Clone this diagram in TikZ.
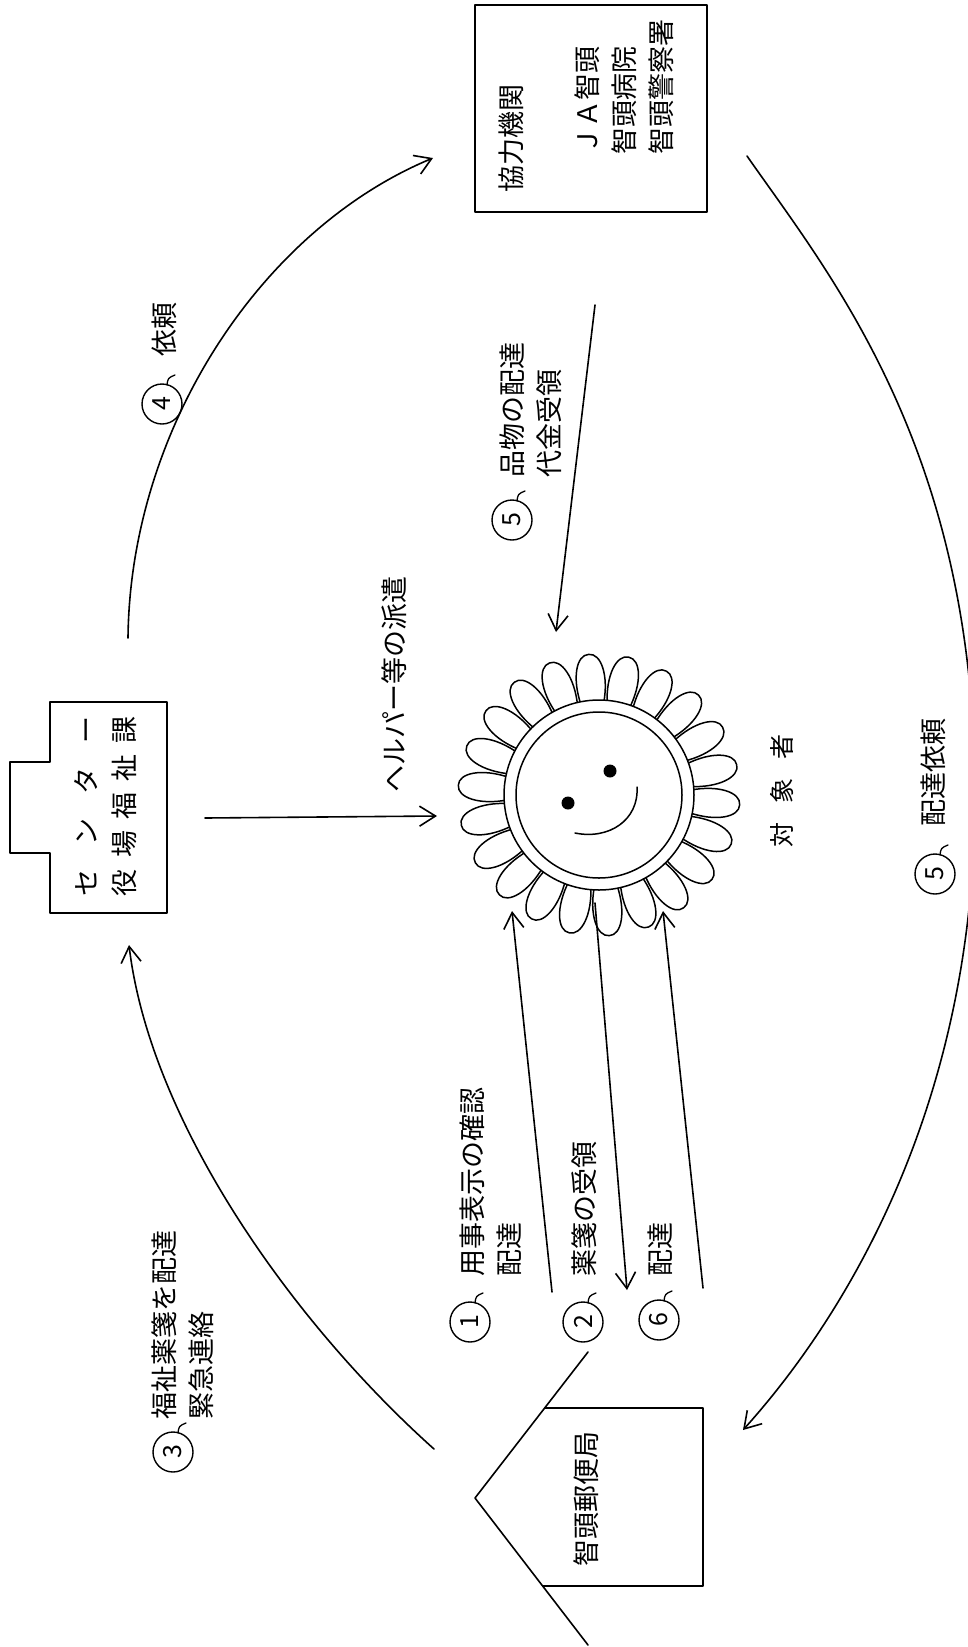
\documentclass[tikz,border=0pt]{standalone}
\usepackage{fontspec}
\newfontfamily\jp{Noto Sans CJK JP}
\usetikzlibrary{arrows.meta}

% circled step number with the small comma stroke after it
\newcommand\stepnum[3]{%
  \node[numcirc] (#1) at #2 {#3};
  \draw[line width=1.3pt] ([shift={(5,-19)}]#1.center) .. controls ([shift={(6,-26)}]#1.center) .. ([shift={(13,-29)}]#1.center);
}

\begin{document}
\begin{tikzpicture}[x=1pt,y=-1pt,
  line width=1.6pt, line cap=round, line join=round,
  lbl/.style={rotate=90, anchor=base west, inner sep=0pt, align=left,
              font=\jp\fontsize{27}{37}\selectfont},
  numcirc/.style={circle, draw, line width=1.4pt, minimum size=40pt, inner sep=0pt,
              rotate=90, font=\jp\fontsize{25}{25}\selectfont},
  arr/.style={-{Straight Barb[length=16pt,width=20pt,line width=1.6pt]}},
  frame/.style={draw, inner sep=0pt},
]
\useasboundingbox (0,0) rectangle (968,1647);
\clip (0,0) rectangle (968,1647);

% ---------- cooperating organisations ----------
\node[frame, minimum width=232pt, minimum height=207pt] (kyoryoku) at (591,108.5) {};
\node[lbl] (kyoryokutxt) at (521,193) {協力機関};
\node[lbl] (kikantxt) at (671,155) {ＪＡ智頭\\智頭病院\\智頭警察署};

% ---------- town office (box with tab) ----------
\node[inner sep=0pt, minimum width=157pt, minimum height=211pt] (yakuba) at (88.5,807.5) {};
\draw (50,702) -- (167,702) -- (167,913) -- (50,913) -- (50,853) -- (10,853) -- (10,762) -- (50,762) -- cycle;
\node[lbl, font=\jp\fontsize{27}{38}\selectfont] (yakubatxt) at (134,897)
  {\makebox[180pt][s]{セ\hfill ン\hfill タ\hfill ー}\\\makebox[180pt][s]{役\hfill 場\hfill 福\hfill 祉\hfill 課}};

% ---------- post office (house shape) ----------
\node[inner sep=0pt, minimum width=228pt, minimum height=293pt] (yubin) at (589,1498) {};
\draw (588,1352) -- (475,1498) -- (588,1645);
\draw (545,1408) -- (703,1408) -- (703,1586) -- (543,1586);
\node[lbl] (yubintxt) at (596,1567) {智頭郵便局};

% ---------- sunflower (the person served) ----------
\begin{scope}[shift={(599,795)}, line width=1.5pt]
  \foreach \i in {0,...,21}{
    \pgfmathsetmacro\a{\i*360/22+4}
    \draw[fill=white] ({\a-7}:91) .. controls ({\a-9}:120) and ({\a-5}:142) .. (\a:141)
                      .. controls ({\a+5}:142) and ({\a+9}:120) .. ({\a+7}:91);
  }
  \draw[fill=white] (0,0) circle [radius=95];
  \draw (0,0) circle [radius=83];
  \fill (-31,8) circle [radius=6.5];
  \fill (11,-24) circle [radius=6.5];
  \draw (-24,38) .. controls (10,45) and (40,25) .. (38,-8);
\end{scope}
\node[inner sep=0pt, minimum size=270pt] (sun) at (599,795) {};
\node[rotate=90, anchor=base west, inner sep=0pt, font=\jp\fontsize{25}{25}\selectfont] (taishosha) at (791,848)
  {\makebox[113pt][s]{対\hfill 象\hfill 者}};

% ---------- connector end points ----------
\coordinate (helperA) at (205,818);
\coordinate (helperB) at (437,816);
\coordinate (c4a) at (128,638);
\coordinate (c4b) at (433,158);
\coordinate (c3a) at (434,1449);
\coordinate (c3b) at (129,945);
\coordinate (c5a) at (747,156);
\coordinate (c5m) at (975,795);
\coordinate (c5b) at (743,1430);
\coordinate (goodsA) at (595,305);
\coordinate (goodsB) at (556,632);
\coordinate (l1a) at (552,1292);
\coordinate (l1b) at (512,911);
\coordinate (l2a) at (595,903);
\coordinate (l2b) at (627,1290);
\coordinate (l6a) at (703,1288);
\coordinate (l6b) at (663,911);

% ---------- connectors ----------
\draw[arr] (helperA) -- (helperB);
\draw[arr] (c4a) .. controls (130,430) and (260,230) .. (c4b);
\draw[arr] (c3a) .. controls (290,1320) and (150,1120) .. (c3b);
\draw (c5a) .. controls (830,275) and (975,450) .. (c5m);
\draw[arr] (c5m) .. controls (975,1140) and (815,1350) .. (c5b);
\draw[arr] (goodsA) -- (goodsB);
\draw[arr] (l1a) -- (l1b);
\draw[arr] (l2a) -- (l2b);
\draw[arr] (l6a) -- (l6b);

% ---------- labels ----------
\node[lbl] (helpertxt) at (404,793) {ヘルパー等の派遣};

\stepnum{n4}{(162,404)}{4}
\node[lbl] (t4) at (174,357) {依頼};

\stepnum{n5a}{(512,520)}{5}
\node[lbl] (t5a) at (559,478) {品物の配達\\代金受領};

\stepnum{n5b}{(935,874)}{5}
\node[lbl] (t5b) at (943,827) {配達依頼};

\stepnum{n3}{(173,1452)}{3}
\node[lbl] (t3) at (211,1420) {福祉薬箋を配達\\緊急連絡};

\stepnum{n1}{(470,1322)}{1}
\node[lbl] (t1) at (519,1277) {用事表示の確認\\配達};

\stepnum{n2}{(583,1322)}{2}
\node[lbl] (t2) at (594,1277) {薬箋の受領};

\stepnum{n6}{(659,1320)}{6}
\node[lbl] (t6) at (670,1277) {配達};

\end{tikzpicture}
\end{document}
